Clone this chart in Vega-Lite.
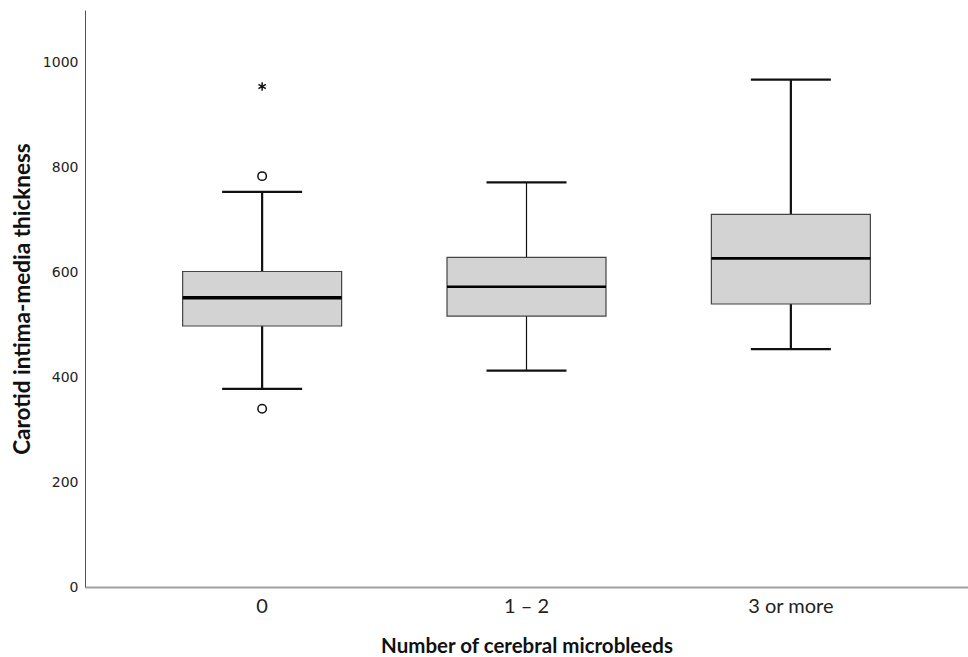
{
  "$schema": "https://vega.github.io/schema/vega-lite/v6.json",
  "width": 883,
  "height": 577,
  "autosize": {"type": "none"},
  "padding": {"left": 85, "top": 10, "right": 0, "bottom": 70},
  "background": "white",
  "config": {"view": {"stroke": null}},
  "datasets": {
    "boxes": [
      {"group": "0", "lower": 378, "q1": 498, "median": 552, "q3": 602, "upper": 754},
      {"group": "1 – 2", "lower": 413, "q1": 517, "median": 573, "q3": 629, "upper": 772},
      {"group": "3 or more", "lower": 454, "q1": 540, "median": 627, "q3": 711, "upper": 968}
    ],
    "outliers": [
      {"group": "0", "value": 784, "type": "outlier"},
      {"group": "0", "value": 340, "type": "outlier"},
      {"group": "0", "value": 955, "type": "extreme"}
    ]
  },
  "encoding": {
    "x": {
      "field": "group",
      "type": "nominal",
      "sort": ["0", "1 – 2", "3 or more"],
      "scale": {"domain": ["0", "1 – 2", "3 or more"], "paddingInner": 0, "paddingOuter": 0.17},
      "axis": {
        "title": "Number of cerebral microbleeds",
        "labelAngle": 0,
        "ticks": false,
        "labelPadding": 9,
        "labelFont": "Lato",
        "labelFontSize": 20,
        "labelColor": "#222222",
        "titleFont": "Lato",
        "titleFontSize": 20.5,
        "titleFontWeight": "bold",
        "titleColor": "#111111",
        "titlePadding": 20,
        "domainColor": "#a0a0a0",
        "domainWidth": 2
      }
    }
  },
  "layer": [
    {
      "data": {"name": "boxes"},
      "mark": {"type": "rule", "color": "#111111"},
      "encoding": {
        "y": {
          "field": "lower",
          "type": "quantitative",
          "scale": {"domain": [0, 1101], "nice": false, "zero": true},
          "axis": {
            "title": "Carotid intima-media thickness",
            "values": [0, 200, 400, 600, 800, 1000],
            "format": "d",
            "grid": false,
            "ticks": false,
            "labelPadding": 7,
            "labelFont": "DejaVu Sans",
            "labelFontSize": 14,
            "labelColor": "#222222",
            "titleFont": "Lato",
            "titleFontSize": 22.5,
            "titleFontWeight": "bold",
            "titleColor": "#111111",
            "titlePadding": 8,
            "domainColor": "#555555",
            "domainWidth": 1
          }
        },
        "y2": {"field": "upper"},
        "strokeWidth": {"condition": {"test": "datum.group === '1 – 2'", "value": 1.2}, "value": 2.2}
      }
    },
    {
      "data": {"name": "boxes"},
      "mark": {"type": "tick", "orient": "horizontal", "size": 80, "thickness": 2.2, "color": "#111111", "opacity": 1},
      "encoding": {"y": {"field": "lower", "type": "quantitative"}}
    },
    {
      "data": {"name": "boxes"},
      "mark": {"type": "tick", "orient": "horizontal", "size": 80, "thickness": 2.2, "color": "#111111", "opacity": 1},
      "encoding": {"y": {"field": "upper", "type": "quantitative"}}
    },
    {
      "data": {"name": "boxes"},
      "mark": {"type": "bar", "size": 159, "fill": "#d3d3d3", "stroke": "#444444", "strokeWidth": 1.2},
      "encoding": {
        "y": {"field": "q1", "type": "quantitative"},
        "y2": {"field": "q3"}
      }
    },
    {
      "data": {"name": "boxes"},
      "transform": [{"filter": "datum.group !== '0'"}],
      "mark": {"type": "tick", "orient": "horizontal", "size": 159, "thickness": 2.6, "color": "#000000", "opacity": 1},
      "encoding": {"y": {"field": "median", "type": "quantitative"}}
    },
    {
      "data": {"name": "boxes"},
      "transform": [{"filter": "datum.group === '0'"}],
      "mark": {"type": "tick", "orient": "horizontal", "size": 159, "thickness": 3.6, "color": "#000000", "opacity": 1},
      "encoding": {"y": {"field": "median", "type": "quantitative"}}
    },
    {
      "data": {"name": "outliers"},
      "mark": {"type": "point", "filled": false, "stroke": "#111111", "strokeWidth": 1.5, "fill": "white", "fillOpacity": 1, "opacity": 1},
      "encoding": {
        "y": {"field": "value", "type": "quantitative"},
        "shape": {
          "field": "type",
          "type": "nominal",
          "scale": {"domain": ["outlier", "extreme"], "range": ["circle", "M0,-1L0,1M-0.87,-0.5L0.87,0.5M-0.87,0.5L0.87,-0.5"]},
          "legend": null
        },
        "size": {"value": 72}
      }
    }
  ]
}
